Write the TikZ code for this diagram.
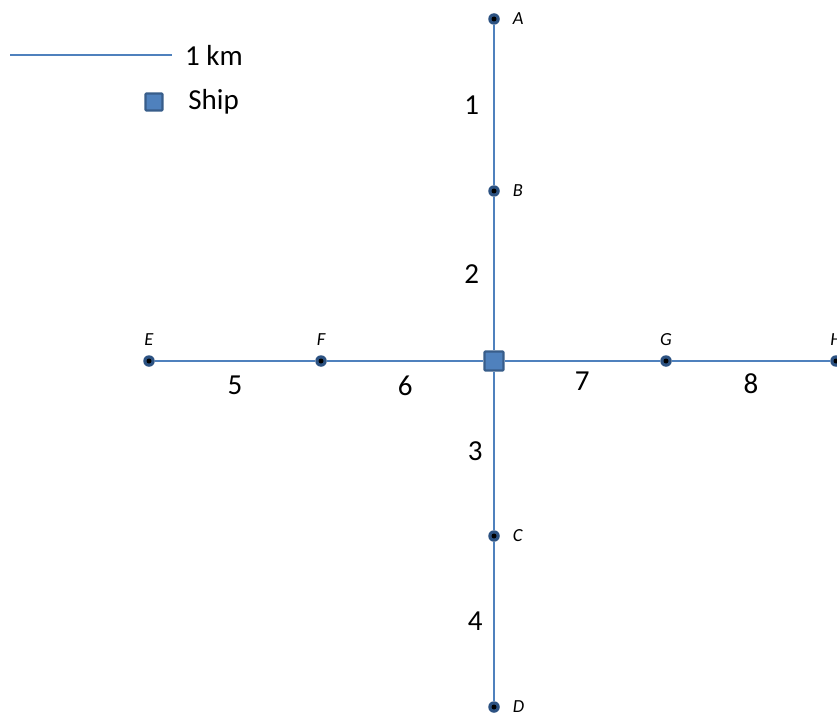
\documentclass[tikz,border=0pt]{standalone}
\usepackage{fontspec}
\setmainfont{Carlito}
\usetikzlibrary{positioning}

\definecolor{lineblue}{RGB}{79,129,189}
\definecolor{shipedge}{RGB}{56,93,138}
\definecolor{dotblue}{RGB}{44,82,130}

\tikzset{
  pt/.style={circle, fill=dotblue, minimum size=2.3mm, inner sep=0pt,
    path picture={\fill[black] (path picture bounding box.center) circle (0.5mm);}},
  ship/.style={rectangle, rounded corners=0.5pt, fill=lineblue, draw=shipedge,
    line width=1.3pt, minimum size=3.8mm, inner sep=0pt},
  lab/.style={font=\fontsize{10.5}{12}\selectfont\itshape, text=black, inner sep=1pt},
  num/.style={font=\fontsize{16.5}{19}\selectfont, text=black, inner sep=0pt},
  track/.style={lineblue, line width=0.9pt}
}

\begin{document}
\begin{tikzpicture}[x=0.02cm, y=-0.02cm]
  \useasboundingbox (0,0) rectangle (837,716);
  % legend
  \coordinate (k1) at (10,55);
  \coordinate (k2) at (172,55);
  \draw[track] (k1) -- (k2) node[num, right=7pt of k2, anchor=west] (km) {1 km};
  \node[ship, minimum size=3.4mm] (key) at (154,102) {};
  \node[num, anchor=west] (shiptxt) at (188,102) {Ship};
  % ship and points
  \node[ship] (S) at (494,361) {};
  \node[pt, label={[lab, label distance=6pt]right:A}] (A) at (494,19) {};
  \node[pt, label={[lab, label distance=6pt]right:B}] (B) at (494,191) {};
  \node[pt, label={[lab, label distance=6pt]right:C}] (C) at (494,536) {};
  \node[pt, label={[lab, label distance=6pt]right:D}] (D) at (494,707) {};
  \node[pt, label={[lab, label distance=4pt]above:E}] (E) at (149,361) {};
  \node[pt, label={[lab, label distance=4pt]above:F}] (F) at (321,361) {};
  \node[pt, label={[lab, label distance=4pt]above:G}] (G) at (666,361) {};
  \node[pt, label={[lab, label distance=4pt]above:H}] (H) at (836,361) {};
  % tracks
  \draw[track] (A) -- node[num, left=8pt] {1} (B);
  \draw[track] (B) -- node[num, left=8pt] {2} (S);
  \draw[track] (S) -- node[num, left=6pt] {3} (C);
  \draw[track] (C) -- node[num, left=6pt] {4} (D);
  \draw[track] (E) -- node[num, below=8pt] {5} (F);
  \draw[track] (F) -- node[num, below=8pt] {6} (S);
  \draw[track] (S) -- node[num, below=6pt] {7} (G);
  \draw[track] (G) -- node[num, below=7pt] {8} (H);
\end{tikzpicture}
\end{document}
